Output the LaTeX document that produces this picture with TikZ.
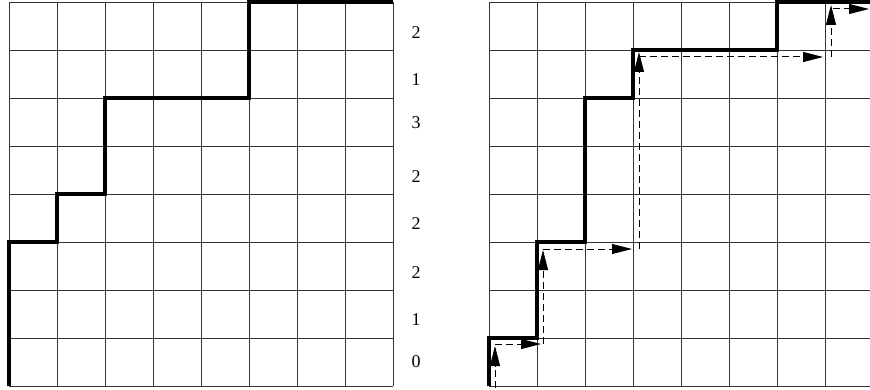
\documentclass[tikz,border=0pt]{standalone}
\usepackage{fontspec}
\setmainfont{Liberation Serif}
\usetikzlibrary{arrows.meta}
\tikzset{
  gridline/.style={line width=0.9pt, black!80},
  thickpath/.style={line width=4.5pt, line join=miter, black},
  dasharrow/.style={line width=1pt, dash pattern=on 7pt off 4pt, -{Triangle[length=20pt,width=10pt]}},
  rowlabel/.style={font=\fontsize{18}{18}\selectfont, inner sep=0pt}
}
\begin{document}
\begin{tikzpicture}[x=1pt,y=-1pt]
\useasboundingbox (0,0) rectangle (870,390);
% left grid
\foreach \i in {0,...,8} {
  \draw[gridline] (9+48*\i,2) -- (9+48*\i,386);
  \draw[gridline] (9,2+48*\i) -- (393,2+48*\i);
}
% right grid
\foreach \i in {0,...,7} {
  \draw[gridline] (489+48*\i,2) -- (489+48*\i,386);
}
\foreach \i in {0,...,8} {
  \draw[gridline] (489,2+48*\i) -- (870,2+48*\i);
}
% left thick path
\coordinate (L0) at (9,386);
\coordinate (L1) at (9,242);
\coordinate (L2) at (57,242);
\coordinate (L3) at (57,194);
\coordinate (L4) at (105,194);
\coordinate (L5) at (105,98);
\coordinate (L6) at (249,98);
\coordinate (L7) at (249,2);
\coordinate (L8) at (393,2);
\draw[thickpath] (L0) -- (L1) -- (L2) -- (L3) -- (L4) -- (L5) -- (L6) -- (L7) -- (L8);
% labels
\node[rowlabel] (n1) at (416,33) {2};
\node[rowlabel] (n2) at (416,80) {1};
\node[rowlabel] (n3) at (416,123) {3};
\node[rowlabel] (n4) at (416,177) {2};
\node[rowlabel] (n5) at (416,224) {2};
\node[rowlabel] (n6) at (416,273) {2};
\node[rowlabel] (n7) at (416,320) {1};
\node[rowlabel] (n8) at (416,362) {0};
% right thick path
\coordinate (R0) at (489,386);
\coordinate (R1) at (489,338);
\coordinate (R2) at (537,338);
\coordinate (R3) at (537,242);
\coordinate (R4) at (585,242);
\coordinate (R5) at (585,98);
\coordinate (R6) at (633,98);
\coordinate (R7) at (633,50);
\coordinate (R8) at (777,50);
\coordinate (R9) at (777,2);
\coordinate (R10) at (872,2);
\draw[thickpath] (R0) -- (R1) -- (R2) -- (R3) -- (R4) -- (R5) -- (R6) -- (R7) -- (R8) -- (R9) -- (R10);
% dashed arrows
\coordinate (D0) at (495,388);
\coordinate (D1) at (495,346);
\coordinate (D1b) at (495,344);
\coordinate (D2) at (541,344);
\coordinate (D2b) at (543,344);
\coordinate (D3) at (543,250);
\coordinate (D3b) at (543,249);
\coordinate (D4) at (632,249);
\coordinate (D4b) at (639,249);
\coordinate (D5) at (639,52);
\coordinate (D5b) at (639,57);
\coordinate (D6) at (823,57);
\coordinate (D6b) at (831,57);
\coordinate (D7) at (831,5);
\coordinate (D7b) at (833,9);
\coordinate (D8) at (869,9);
\draw[dasharrow] (D0) -- (D1);
\draw[dasharrow] (D1b) -- (D2);
\draw[dasharrow] (D2b) -- (D3);
\draw[dasharrow] (D3b) -- (D4);
\draw[dasharrow] (D4b) -- (D5);
\draw[dasharrow] (D5b) -- (D6);
\draw[dasharrow] (D6b) -- (D7);
\draw[dasharrow] (D7b) -- (D8);
\end{tikzpicture}
\end{document}
